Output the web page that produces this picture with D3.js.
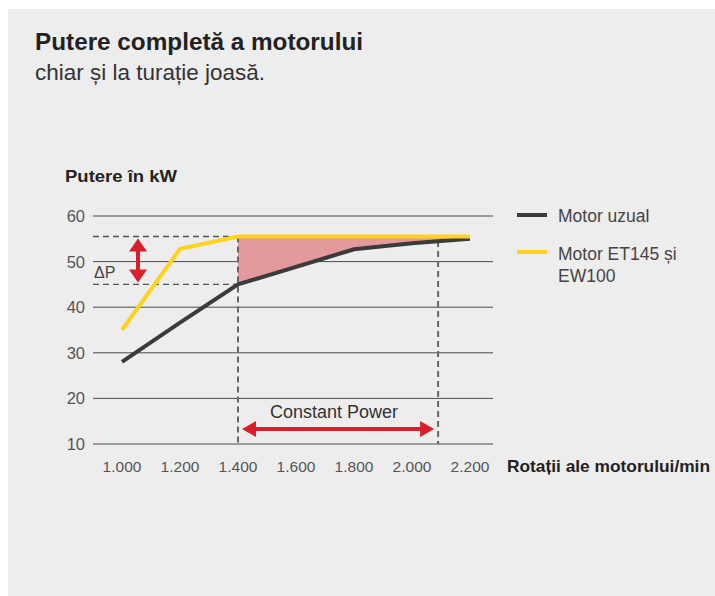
<!DOCTYPE html>
<html>
<head>
<meta charset="utf-8">
<title>Putere completă a motorului</title>
<script src="https://d3js.org/d3.v7.min.js"></script>
<style>
  body { margin: 0; background: #fff; font-family: "Liberation Sans", Arial, sans-serif; }
</style>
</head>
<body>
<script>
// data
var rpmTicks = [1000, 1200, 1400, 1600, 1800, 2000, 2200];
var kwTicks = [10, 20, 30, 40, 50, 60];
var motorUzual = [[1000, 28], [1200, 36.6], [1400, 45], [1800, 52.7], [2000, 54], [2200, 55]];
var motorET = [[1000, 35], [1200, 52.8], [1400, 55.5], [1800, 55.5], [2200, 55.5]];
var constStart = 1400, constEnd = 2090;
var seriesNames = ["Motor uzual", "Motor ET145 și", "EW100"];

var width = 715, height = 596;
var svg = d3.select("body").append("svg")
    .attr("width", width)
    .attr("height", height);

svg.append("rect")
    .attr("x", 8).attr("y", 9)
    .attr("width", width - 8).attr("height", height - 9)
    .attr("fill", "#ededed");

var x = d3.scaleLinear().domain([1000, 2200]).range([122, 470]);
var y = d3.scaleLinear().domain([10, 60]).range([444, 216]);

// titles
svg.append("text").attr("x", 35).attr("y", 50)
    .attr("font-size", 23).attr("font-weight", "bold").attr("fill", "#222")
    .attr("textLength", 328).attr("lengthAdjust", "spacingAndGlyphs")
    .text("Putere completă a motorului");
svg.append("text").attr("x", 35).attr("y", 80)
    .attr("font-size", 21.5).attr("fill", "#333")
    .attr("textLength", 230).attr("lengthAdjust", "spacingAndGlyphs")
    .text("chiar și la turație joasă.");

svg.append("text").attr("x", 65).attr("y", 182)
    .attr("font-size", 16.5).attr("font-weight", "bold").attr("fill", "#222")
    .attr("textLength", 112).attr("lengthAdjust", "spacingAndGlyphs")
    .text("Putere în kW");

// grid
svg.selectAll(".grid").data(kwTicks).enter().append("line")
    .attr("x1", 93).attr("x2", 493)
    .attr("y1", function(d) { return y(d); })
    .attr("y2", function(d) { return y(d); })
    .attr("stroke", "#4a4a4a").attr("stroke-width", 1);

svg.selectAll(".ylab").data(kwTicks).enter().append("text")
    .attr("x", 85)
    .attr("y", function(d) { return y(d) + 6; })
    .attr("text-anchor", "end")
    .attr("font-size", 16.5).attr("fill", "#555")
    .text(function(d) { return d; });

svg.selectAll(".xlab").data(rpmTicks).enter().append("text")
    .attr("x", function(d) { return x(d); })
    .attr("y", 472)
    .attr("text-anchor", "middle")
    .attr("font-size", 15.5).attr("fill", "#555")
    .text(function(d) { return d3.format(",.3f")(d / 1000).replace(",", ""); });

svg.append("text").attr("x", 507).attr("y", 472)
    .attr("font-size", 16.5).attr("font-weight", "bold").attr("fill", "#222")
    .attr("textLength", 203).attr("lengthAdjust", "spacingAndGlyphs")
    .text("Rotații ale motorului/min");

// shaded gain area
var fy = function(data, r) {
  var xs = data.map(function(p) { return p[0]; });
  var ys = data.map(function(p) { return p[1]; });
  return d3.scaleLinear().domain(xs).range(ys)(r);
};
var areaX = [constStart, 1800, 2000, 2200];
svg.append("path")
    .datum(areaX)
    .attr("d", d3.area()
        .x(function(d) { return x(d); })
        .y0(function(d) { return y(fy(motorUzual, d)); })
        .y1(function(d) { return y(fy(motorET, d)); }))
    .attr("fill", "#e4999c");

// dashed guides
var dash = "6,4";
var topKw = 55.5, lowKw = 45;
svg.append("line").attr("x1", 93).attr("x2", x(constStart))
    .attr("y1", y(topKw)).attr("y2", y(topKw))
    .attr("stroke", "#555").attr("stroke-width", 1.3).attr("stroke-dasharray", dash);
svg.append("line").attr("x1", 93).attr("x2", x(constStart))
    .attr("y1", y(lowKw)).attr("y2", y(lowKw))
    .attr("stroke", "#555").attr("stroke-width", 1.3).attr("stroke-dasharray", dash);
svg.append("line").attr("x1", x(constStart)).attr("x2", x(constStart))
    .attr("y1", y(topKw)).attr("y2", y(10))
    .attr("stroke", "#666").attr("stroke-width", 2).attr("stroke-dasharray", dash);
svg.append("line").attr("x1", x(constEnd)).attr("x2", x(constEnd))
    .attr("y1", y(54.5)).attr("y2", y(10))
    .attr("stroke", "#666").attr("stroke-width", 2).attr("stroke-dasharray", dash);

// lines
var line = d3.line().x(function(d) { return x(d[0]); }).y(function(d) { return y(d[1]); });
svg.append("path").datum(motorUzual).attr("d", line)
    .attr("fill", "none").attr("stroke", "#3b3b3b").attr("stroke-width", 4);
svg.append("path").datum(motorET).attr("d", line)
    .attr("fill", "none").attr("stroke", "#ffd21c").attr("stroke-width", 4);

// red arrows
var red = "#d91f2a";
function arrowHead(px, py, dir) {
  var pts;
  if (dir === "up") pts = [[px, py], [px - 9, py + 13], [px + 9, py + 13]];
  if (dir === "down") pts = [[px, py], [px - 9, py - 13], [px + 9, py - 13]];
  if (dir === "left") pts = [[px, py], [px + 14, py - 8], [px + 14, py + 8]];
  if (dir === "right") pts = [[px, py], [px - 14, py - 8], [px - 14, py + 8]];
  svg.append("polygon").attr("points", pts.join(" ")).attr("fill", red);
}
var ax = 138;
svg.append("line").attr("x1", ax).attr("x2", ax)
    .attr("y1", y(topKw) + 8).attr("y2", y(lowKw) - 8)
    .attr("stroke", red).attr("stroke-width", 4);
arrowHead(ax, y(topKw) + 2, "up");
arrowHead(ax, y(lowKw) - 2, "down");

svg.append("text").attr("x", 94).attr("y", 278)
    .attr("font-size", 16).attr("fill", "#444").text("ΔP");

var ay = 429;
svg.append("line").attr("x1", x(constStart) + 12).attr("x2", x(constEnd) - 12)
    .attr("y1", ay).attr("y2", ay)
    .attr("stroke", red).attr("stroke-width", 4);
arrowHead(x(constStart) + 4, ay, "left");
arrowHead(x(constEnd) - 4, ay, "right");

svg.append("text").attr("x", 270).attr("y", 418)
    .attr("font-size", 17.5).attr("fill", "#333")
    .attr("textLength", 128).attr("lengthAdjust", "spacingAndGlyphs")
    .text("Constant Power");

// legend
var legColors = ["#3b3b3b", "#ffd21c"];
var legY = [215, 252];
svg.selectAll(".legline").data(legColors).enter().append("line")
    .attr("x1", 517).attr("x2", 547)
    .attr("y1", function(d, i) { return legY[i]; })
    .attr("y2", function(d, i) { return legY[i]; })
    .attr("stroke", function(d) { return d; }).attr("stroke-width", 4);
svg.selectAll(".legtext").data(seriesNames).enter().append("text")
    .attr("x", 558)
    .attr("y", function(d, i) { return [222, 260, 282][i]; })
    .attr("font-size", 17.5).attr("fill", "#444")
    .text(function(d) { return d; });
</script>
</body>
</html>
